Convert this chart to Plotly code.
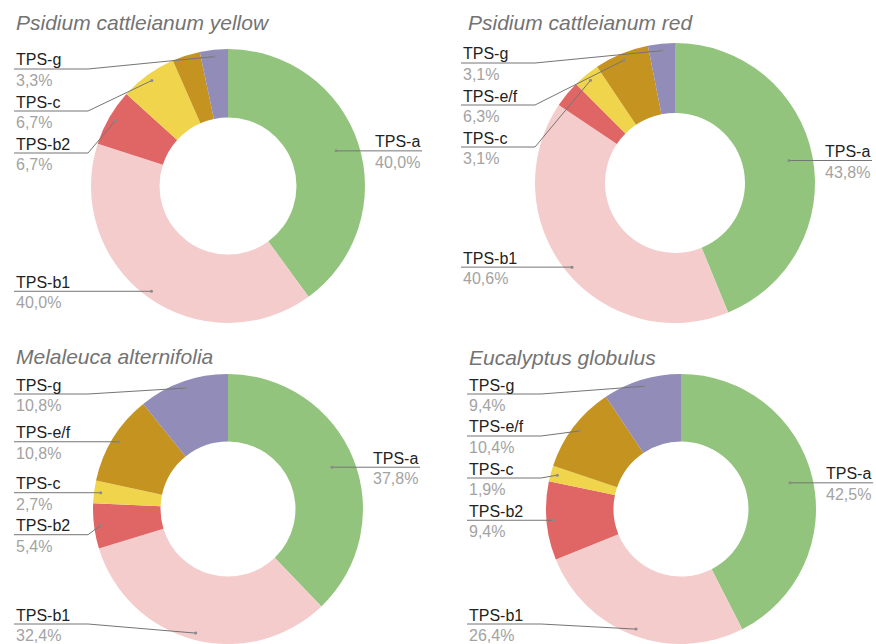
import math
import plotly.graph_objects as go

W, H = 876, 644

# ---------------- data ----------------
categories = ["TPS-a", "TPS-b1", "TPS-b2", "TPS-c", "TPS-e/f", "TPS-g"]
colors = ["#93c47d", "#f4cccc", "#e06666", "#f0d54c", "#c49320", "#918db8"]

titles = ["Psidium cattleianum yellow", "Psidium cattleianum red",
          "Melaleuca alternifolia", "Eucalyptus globulus"]
yellow_vals = [40.0, 40.0, 6.7, 6.7, 3.3, 3.3]
red_vals = [43.8, 40.6, 3.1, 3.1, 6.3, 3.1]
melaleuca_vals = [37.8, 32.4, 5.4, 2.7, 10.8, 10.8]
eucalyptus_vals = [42.5, 26.4, 9.4, 1.9, 10.4, 9.4]
series = [yellow_vals, red_vals, melaleuca_vals, eucalyptus_vals]
hidden_labels = [["TPS-e/f"], ["TPS-b2"], [], []]

# ---------------- layout (pixels) ----------------
panels = [
    dict(cx=228, cy=186, r=137, tx=14, ty=23),
    dict(cx=675, cy=183, r=140, tx=466, ty=23),
    dict(cx=228, cy=509, r=135, tx=14, ty=356),
    dict(cx=681, cy=509, r=135, tx=467, ty=357),
]

FONT = "Liberation Sans, Arial, sans-serif"
NAME_COLOR = "#222222"
PCT_COLOR = "#a3a3a3"
LINE_COLOR = "#757575"


def px(x):
    return x / W


def py(y):
    return 1 - y / H


def fmt(v):
    return f"{v:.1f}".replace(".", ",") + "%"


fig = go.Figure()
annotations = []
shapes = []

for i, (vals, p) in enumerate(zip(series, panels)):
    cx, cy, r = p["cx"], p["cy"], p["r"]
    fig.add_trace(go.Pie(
        labels=categories, values=vals, sort=False, direction="clockwise",
        rotation=0, hole=0.5, textinfo="none", showlegend=False,
        marker=dict(colors=colors, line=dict(width=0)),
        domain=dict(x=[px(cx - r), px(cx + r)],
                    y=[max(0, py(cy + r)), min(1, py(cy - r))]),
        hoverinfo="label+percent",
    ))
    # title
    annotations.append(dict(
        x=px(p["tx"]), y=py(p["ty"]), xref="paper", yref="paper",
        xanchor="left", yanchor="middle", showarrow=False,
        text=f"<i>{titles[i]}</i>",
        font=dict(family=FONT, size=21, color="#737373")))

    total = sum(vals)
    cum = 0.0
    left, right = [], []
    for cat, v in zip(categories, vals):
        mid = (cum + v / 2) / total * 2 * math.pi
        cum += v
        if cat in hidden_labels[i]:
            continue
        is_right = mid < math.pi
        rr = r * (0.83 if is_right else 0.95)
        ex = cx + rr * math.sin(mid)
        ey = cy - rr * math.cos(mid)
        (right if is_right else left).append((ey, ex, cat, v))

    label_left = cx - 214
    label_right = cx + r + 57
    for side, items in (("left", left), ("right", right)):
        items.sort()
        prev = -1e9
        for ey, ex, cat, v in items:
            ly = max(ey, prev + 42, cy - r + 20)
            ly = min(ly, cy + r - 20)
            prev = ly
            if side == "left":
                bx = min(label_left + 74, ex)
                path = f"M {px(label_left)},{py(ly)} L {px(bx)},{py(ly)} L {px(ex)},{py(ey)}"
                ax, anchor = label_left, "left"
            else:
                bx = max(label_right - 74, ex)
                path = f"M {px(label_right)},{py(ly)} L {px(bx)},{py(ly)} L {px(ex)},{py(ey)}"
                ax, anchor = label_right, "right"
            shapes.append(dict(type="path", path=path, xref="paper", yref="paper",
                               line=dict(color=LINE_COLOR, width=1)))
            shapes.append(dict(type="circle", xref="paper", yref="paper",
                               x0=px(ex - 1.5), x1=px(ex + 1.5),
                               y0=py(ey + 1.5), y1=py(ey - 1.5),
                               fillcolor="#8a8a8a", line=dict(width=0)))
            annotations.append(dict(
                x=px(ax), y=py(ly - 9), xref="paper", yref="paper",
                xanchor=anchor, yanchor="middle", showarrow=False, text=cat,
                font=dict(family=FONT, size=16, color=NAME_COLOR)))
            annotations.append(dict(
                x=px(ax), y=py(ly + 11.5), xref="paper", yref="paper",
                xanchor=anchor, yanchor="middle", showarrow=False, text=fmt(v),
                font=dict(family=FONT, size=16, color=PCT_COLOR)))

fig.update_layout(
    width=W, height=H, margin=dict(l=0, r=0, t=0, b=0),
    paper_bgcolor="white", plot_bgcolor="white",
    annotations=annotations, shapes=shapes,
)

fig.write_html("out.html")
